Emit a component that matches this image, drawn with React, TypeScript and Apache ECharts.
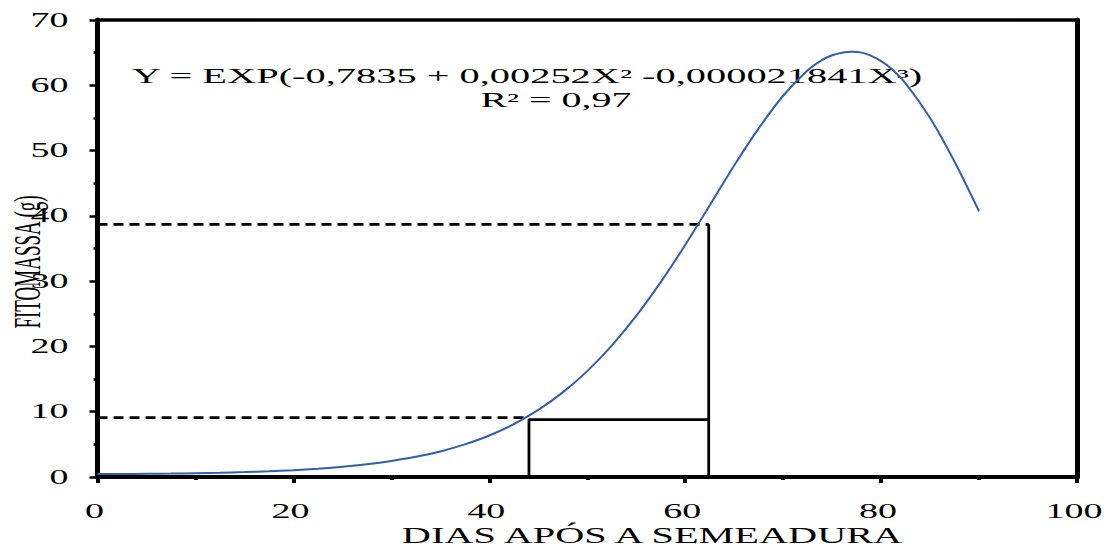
import React, { useEffect, useRef } from 'react';
import * as echarts from 'echarts';

// Days after sowing (x) and fitted biomass (g)
const days = [0, 2.5, 5, 7.5, 10, 12.5, 15, 17.5, 20, 22.5, 25, 27.5, 30, 32.5, 35, 37.5, 40, 42.5, 45, 47.5, 50, 52.5, 55, 57.5, 60, 62.5, 65, 67.5, 70, 72.5, 74, 75, 76, 77, 78, 79, 80, 81, 82.5, 85, 87.5, 90];
const fitomassa = [0.46, 0.46, 0.49, 0.52, 0.58, 0.65, 0.75, 0.88, 1.05, 1.28, 1.57, 1.95, 2.45, 3.09, 3.92, 5.0, 6.36, 8.1, 10.27, 12.96, 16.22, 20.12, 24.67, 29.85, 35.54, 41.6, 47.72, 53.4, 58.4, 62.3, 63.9, 64.6, 65.0, 65.15, 65.0, 64.5, 63.7, 62.6, 60.3, 55.0, 48.3, 40.7];

// Reference lines (data coordinates)
const upperDashed = [[0, 38.7], [62.4, 38.7]];
const lowerDashed = [[0, 9.1], [44.05, 9.1]];
const lowerSolid = [[44.05, 0], [44.05, 8.8], [62.4, 8.8]];
const upperSolid = [[62.4, -0.5], [62.4, 38.7]];

const xTicks = [0, 20, 40, 60, 80, 100];
const yTicks = [0, 10, 20, 30, 40, 50, 60, 70];

const equationText = 'Y = EXP(-0,7835 + 0,00252X² -0,000021841X³)';
const r2Text = 'R² = 0,97';
const xName = 'DIAS APÓS A SEMEADURA';
const yName = 'FITOMASSA (g)';

const FONT = "'Liberation Serif', 'Times New Roman', serif";

function txt(text: string, x: number, y: number, size: number, align: string, sx: number, sy = 1, rotation = 0) {
  return {
    type: 'text',
    x,
    y,
    scaleX: sx,
    scaleY: sy,
    rotation,
    silent: true,
    style: {
      text,
      fontSize: size,
      fontFamily: FONT,
      fill: '#000',
      align,
      verticalAlign: 'middle',
      textAlign: align,
      textVerticalAlign: 'middle',
    },
  };
}

export default function App() {
  const ref = useRef<HTMLDivElement>(null);

  useEffect(() => {
    document.body.style.margin = '0';
    document.body.style.overflow = 'hidden';
    const chart = echarts.init(ref.current!, null, { renderer: 'svg' });
    const black = '#000';
    chart.setOption({
      animation: false,
      backgroundColor: '#fff',
      grid: { left: 97.5, right: 34, top: 20, bottom: 70 },
      xAxis: [
        {
          type: 'value', min: 0, max: 100, interval: 20, position: 'bottom',
          axisLine: { show: true, onZero: false, lineStyle: { color: black, width: 4 } },
          axisTick: { show: true, length: 6, lineStyle: { color: black, width: 4 } },
          minorTick: { show: true, splitNumber: 2, length: 3, lineStyle: { color: black, width: 4 } },
          axisLabel: { show: false },
          splitLine: { show: false },
          minorSplitLine: { show: false },
        },
        {
          type: 'value', min: 0, max: 100, position: 'top',
          axisLine: { show: true, onZero: false, lineStyle: { color: black, width: 3.5 } },
          axisTick: { show: false }, axisLabel: { show: false }, splitLine: { show: false },
        },
      ],
      yAxis: [
        {
          type: 'value', min: 0, max: 70, interval: 10, position: 'left',
          axisLine: { show: true, onZero: false, lineStyle: { color: black, width: 5 } },
          axisTick: { show: true, length: 8, lineStyle: { color: black, width: 2.5 } },
          minorTick: { show: true, splitNumber: 2, length: 4, lineStyle: { color: black, width: 2.5 } },
          axisLabel: { show: false },
          splitLine: { show: false },
          minorSplitLine: { show: false },
        },
        {
          type: 'value', min: 0, max: 70, position: 'right',
          axisLine: { show: true, onZero: false, lineStyle: { color: black, width: 5 } },
          axisTick: { show: false }, axisLabel: { show: false }, splitLine: { show: false },
        },
      ],
      series: [
        {
          type: 'line', data: upperDashed, symbol: 'none', silent: true,
          lineStyle: { color: black, width: 2.6, type: [10, 6] }, z: 2,
        },
        {
          type: 'line', data: lowerDashed, symbol: 'none', silent: true,
          lineStyle: { color: black, width: 2.6, type: [10, 6] }, z: 2,
        },
        {
          type: 'line', data: lowerSolid, symbol: 'none', silent: true,
          lineStyle: { color: black, width: 2.8 }, z: 2,
        },
        {
          type: 'line', data: upperSolid, symbol: 'none', silent: true,
          lineStyle: { color: black, width: 2.8 }, z: 2,
        },
        {
          type: 'line', data: days.map((d, i) => [d, fitomassa[i]]), smooth: 0.3,
          symbol: 'none', silent: true,
          lineStyle: { color: '#2f5fae', width: 2 }, z: 3,
        },
      ],
    });

    const graphics: any[] = [];
    xTicks.forEach((v) => {
      const p = chart.convertToPixel({ gridIndex: 0 }, [v, 0]) as number[];
      graphics.push(txt(String(v), p[0] - 3, p[1] + 34, 20, 'center', 1.9));
    });
    yTicks.forEach((v) => {
      const p = chart.convertToPixel({ gridIndex: 0 }, [0, v]) as number[];
      graphics.push(txt(String(v), p[0] - 29, p[1], 20, 'right', 1.9));
    });
    graphics.push(txt(xName, 652, 535, 24, 'center', 1.68));
    graphics.push(txt(yName, 27, 262, 19, 'center', 1, 2.0, Math.PI / 2));
    graphics.push(txt(equationText, 527, 76, 20, 'center', 2.02));
    graphics.push(txt(r2Text, 556, 100, 20, 'center', 2.0));
    chart.setOption({ graphic: { elements: graphics } });

    return () => chart.dispose();
  }, []);

  return <div ref={ref} style={{ width: 1111, height: 547 }} />;
}
